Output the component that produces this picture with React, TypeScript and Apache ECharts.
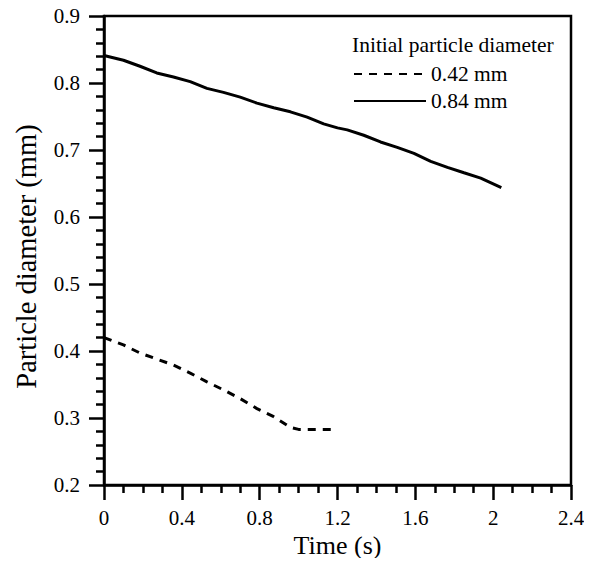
import React, { useEffect, useRef } from "react";
import * as echarts from "echarts";

const timeLarge = [0, 0.1, 0.185, 0.271, 0.357, 0.443, 0.529, 0.614, 0.7, 0.786, 0.872, 0.958, 1.044, 1.129, 1.2, 1.25, 1.335, 1.421, 1.507, 1.593, 1.679, 1.765, 1.85, 1.936, 2.042];
const diamLarge = [0.841, 0.834, 0.825, 0.815, 0.809, 0.802, 0.792, 0.786, 0.779, 0.77, 0.763, 0.757, 0.749, 0.739, 0.733, 0.73, 0.722, 0.712, 0.704, 0.695, 0.683, 0.674, 0.666, 0.658, 0.644];
const timeSmall = [0, 0.1, 0.185, 0.271, 0.357, 0.443, 0.529, 0.614, 0.7, 0.786, 0.872, 0.958, 1.0, 1.19];
const diamSmall = [0.42, 0.409, 0.397, 0.388, 0.379, 0.367, 0.354, 0.342, 0.329, 0.314, 0.302, 0.286, 0.283, 0.283];
const seriesNames = ["0.42 mm", "0.84 mm"];
const legendTitle = "Initial particle diameter";
const xTitle = "Time (s)";
const yTitle = "Particle diameter (mm)";

const FONT = "'Liberation Serif', 'Times New Roman', serif";

export default function App() {
  const ref = useRef<HTMLDivElement>(null);
  useEffect(() => {
    if (!ref.current) return;
    const chart = echarts.init(ref.current, undefined, { renderer: "svg" });
    const pair = (xs: number[], ys: number[]) => xs.map((x, i) => [x, ys[i]]);
    chart.setOption({
      animation: false,
      backgroundColor: "#fff",
      grid: {
        left: 104,
        right: 21,
        top: 16,
        bottom: 81,
        show: true,
        borderColor: "#000",
        borderWidth: 2.5,
        backgroundColor: "transparent",
      },
      graphic: [
        {
          type: "text",
          left: 352,
          top: 34,
          style: { text: legendTitle, font: `21.5px ${FONT}`, fill: "#000" },
        },
      ],
      legend: {
        orient: "vertical",
        left: 348,
        top: 58,
        itemWidth: 72,
        itemHeight: 14,
        itemGap: 5,
        data: seriesNames,
        itemStyle: { opacity: 0 },
        textStyle: { fontFamily: FONT, fontSize: 21.5, color: "#000", padding: [0, 0, 0, 0] },
      },
      xAxis: {
        type: "value",
        min: 0,
        max: 2.4,
        interval: 0.4,
        name: xTitle,
        nameLocation: "middle",
        nameGap: 46,
        nameTextStyle: { fontFamily: FONT, fontSize: 26, color: "#000" },
        axisLine: { show: true, onZero: false, lineStyle: { color: "#000", width: 2.5 } },
        axisTick: { show: true, length: 15, lineStyle: { color: "#000", width: 2.5 } },
        minorTick: { show: true, splitNumber: 4, length: 8, lineStyle: { color: "#000", width: 2.5 } },
        splitLine: { show: false },
        axisLabel: {
          fontFamily: FONT,
          fontSize: 21,
          color: "#000",
          margin: 22,
          formatter: (v: number) => String(Math.round(v * 10) / 10),
        },
      },
      yAxis: {
        type: "value",
        min: 0.2,
        max: 0.9,
        interval: 0.1,
        name: yTitle,
        nameLocation: "middle",
        nameGap: 63,
        nameTextStyle: { fontFamily: FONT, fontSize: 28.5, color: "#000", padding: [0, 12, 0, 0] },
        axisLine: { show: true, onZero: false, lineStyle: { color: "#000", width: 2.5 } },
        axisTick: { show: true, length: 15, lineStyle: { color: "#000", width: 2.5 } },
        minorTick: { show: true, splitNumber: 5, length: 8, lineStyle: { color: "#000", width: 2.5 } },
        splitLine: { show: false },
        axisLabel: {
          fontFamily: FONT,
          fontSize: 21,
          color: "#000",
          margin: 24,
          formatter: (v: number) => v.toFixed(1),
        },
      },
      series: [
        {
          name: seriesNames[0],
          type: "line",
          symbol: "none",
          data: pair(timeSmall, diamSmall),
          lineStyle: { color: "#000", width: 3, type: [8, 7] },
          itemStyle: { color: "#000" },
        },
        {
          name: seriesNames[1],
          type: "line",
          symbol: "none",
          data: pair(timeLarge, diamLarge),
          lineStyle: { color: "#000", width: 3, type: "solid" },
          itemStyle: { color: "#000" },
        },
      ],
    });
    return () => chart.dispose();
  }, []);
  return <div ref={ref} style={{ width: 592, height: 566, margin: -8 }} />;
}
